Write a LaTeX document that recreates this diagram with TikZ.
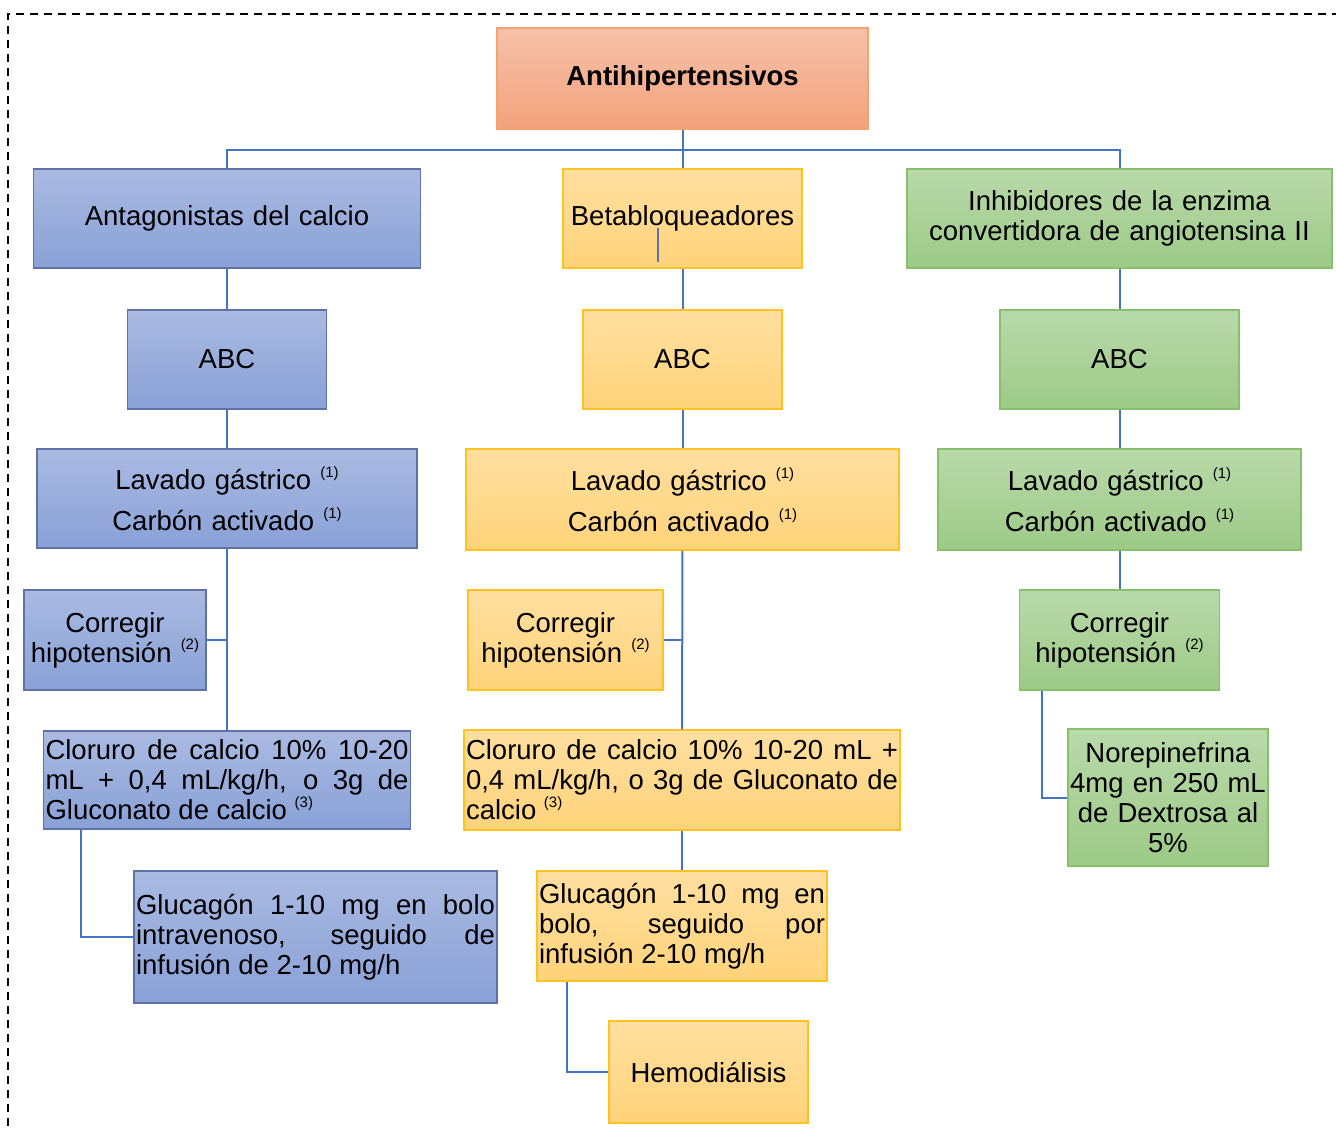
\documentclass[tikz,border=0pt]{standalone}
\usepackage{fontspec}
\setmainfont{Liberation Sans}
\usepackage{xcolor}
\definecolor{rosaarriba}{HTML}{F6C1A9}
\definecolor{rosaabajo}{HTML}{F3A27C}
\definecolor{rosaborde}{HTML}{F4A46F}
\definecolor{azularriba}{HTML}{AABAE2}
\definecolor{azulabajo}{HTML}{89A1D7}
\definecolor{azulborde}{HTML}{5F72A6}
\definecolor{amararriba}{HTML}{FFDFA0}
\definecolor{amarabajo}{HTML}{FFD37A}
\definecolor{amarborde}{HTML}{FFC21F}
\definecolor{verdearriba}{HTML}{B9D9AA}
\definecolor{verdeabajo}{HTML}{9DCA87}
\definecolor{verdeborde}{HTML}{86C06C}
\definecolor{conector}{HTML}{4472C4}
\hyphenpenalty=10000
\exhyphenpenalty=10000
\newcommand{\nota}[1]{\raisebox{0.45em}{\fontsize{15}{15}\selectfont(#1)}}

\begin{document}
\begin{tikzpicture}[x=1pt, y=-1pt, font=\fontsize{27.5}{30}\selectfont,
    caja/.style={draw, line width=1.5pt, inner sep=2pt, align=center},
    raiz/.style={caja, top color=rosaarriba, bottom color=rosaabajo, draw=rosaborde},
    azul/.style={caja, top color=azularriba, bottom color=azulabajo, draw=azulborde},
    amar/.style={caja, top color=amararriba, bottom color=amarabajo, draw=amarborde},
    verde/.style={caja, top color=verdearriba, bottom color=verdeabajo, draw=verdeborde},
    linea/.style={draw=conector, line width=2pt}]
        \useasboundingbox (0,0) rectangle (1336,1129);
        \draw[line width=1.5pt, dash pattern=on 8pt off 6pt] (8,1140) -- (8,14) -- (1345,14);

        \node[raiz, text width=367pt, minimum height=101pt](raiz) at (682.5,78.5){\textbf{Antihipertensivos}};

        \node[azul, text width=383pt, minimum height=99pt](antag) at (227,218.5){Antagonistas del calcio};
        \node[amar, text width=235pt, minimum height=99pt](beta) at (682.5,218.5){Betabloqueadores};
        \node[verde, text width=421pt, minimum height=99pt](inhib) at (1119.5,218.5){Inhibidores de la enzima\\convertidora de angiotensina II};

        \node[azul, text width=195pt, minimum height=99pt](abcA) at (227,359.5){ABC};
        \node[amar, text width=195pt, minimum height=99pt](abcB) at (682.5,359.5){ABC};
        \node[verde, text width=235pt, minimum height=99pt](abcC) at (1119.5,359.5){ABC};

        \node[azul, text width=376pt, minimum height=99pt](lavA) at (227,498.5){Lavado gástrico \nota{1}\\[11pt]Carbón activado \nota{1}};
        \node[amar, text width=429pt, minimum height=101pt](lavB) at (682.5,499.5){Lavado gástrico \nota{1}\\[11pt]Carbón activado \nota{1}};
        \node[verde, text width=359pt, minimum height=101pt](lavC) at (1119.5,499.5){Lavado gástrico \nota{1}\\[11pt]Carbón activado \nota{1}};

        \node[azul, text width=178pt, minimum height=100pt](corrA) at (115,640){Corregir\\hipotensión \nota{2}};
        \node[amar, text width=191pt, minimum height=100pt](corrB) at (565.5,640){Corregir\\hipotensión \nota{2}};
        \node[verde, text width=196pt, minimum height=100pt](corrC) at (1119.5,640){Corregir\\hipotensión \nota{2}};

        \node[azul, align=justify, text width=363pt, minimum height=98pt](cloA) at (227,780){Cloruro de calcio 10\% 10-20\linebreak mL + 0,4 mL/kg/h, o 3g de\linebreak Gluconato de calcio \nota{3}};
        \node[amar, align=justify, text width=432pt, minimum height=100pt](cloB) at (682,780){Cloruro de calcio 10\% 10-20 mL +\linebreak 0,4 mL/kg/h, o 3g de Gluconato de\linebreak calcio \nota{3}};
        \node[verde, text width=196pt, minimum height=137pt](nore) at (1168,797.5){Norepinefrina\\4mg en 250 mL\\de Dextrosa al\\5\%};

        \node[azul, align=justify, text width=359pt, minimum height=132pt](gluA) at (315.5,937){Glucagón 1-10 mg en bolo\linebreak intravenoso, seguido de\linebreak infusión de 2-10 mg/h};
        \node[amar, align=justify, text width=286pt, minimum height=110pt](gluB) at (682,926){Glucagón 1-10 mg en\linebreak bolo, seguido por\linebreak infusión 2-10 mg/h};
        \node[amar, text width=195pt, minimum height=102pt](hemo) at (708.5,1072){Hemodiálisis};

        \coordinate (bus) at (682.5,150);
        \draw[linea] (bus) -| (antag);
        \draw[linea] (bus) -| (inhib);
        \path[linea] (raiz) edge (beta)
        (antag) edge (abcA) (abcA) edge (lavA) (lavA) edge (cloA)
        (beta) edge (abcB) (abcB) edge (lavB) (lavB) edge (cloB) (cloB) edge (gluB)
        (inhib) edge (abcC) (abcC) edge (lavC) (lavC) edge (corrC)
        ;
        \draw[linea] (corrA.east) -- (corrA.east -| lavA.south);
        \draw[linea] (corrB.east) -- (corrB.east -| lavB.south);
        \draw[linea] ([xshift=38pt]cloA.south west) |- (gluA.west);
        \draw[linea] ([xshift=31pt]gluB.south west) |- (hemo.west);
        \draw[linea] ([xshift=23pt]corrC.south west) |- (nore.west);
        \draw[draw=azulborde, line width=1.5pt] (658,228) -- (658,262);
    \end{tikzpicture}
\end{document}
